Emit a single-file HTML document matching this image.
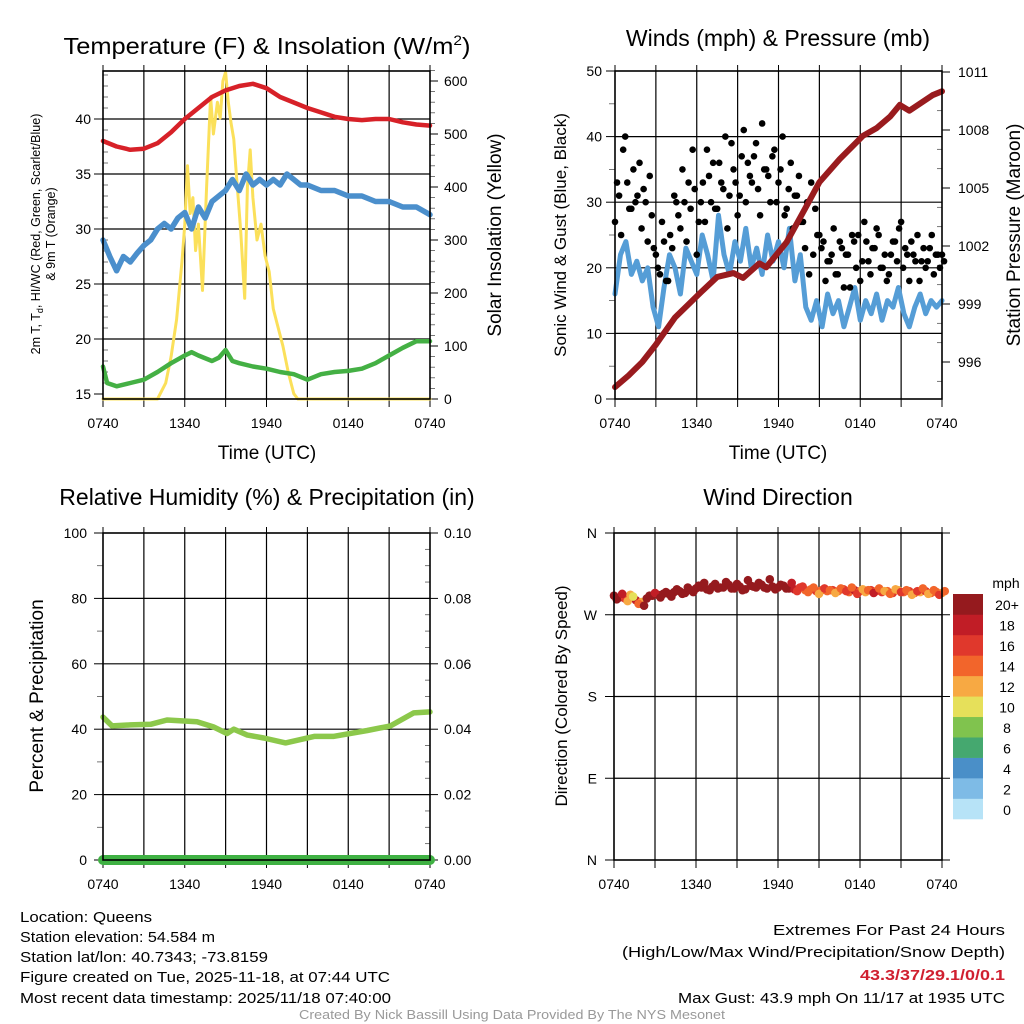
<!DOCTYPE html>
<html><head><meta charset="utf-8"><style>
html,body{margin:0;padding:0;background:#fff;}
svg{display:block;font-family:"Liberation Sans",sans-serif;}
</style></head><body>
<svg id="fig" width="1024" height="1024" viewBox="0 0 1024 1024" xmlns="http://www.w3.org/2000/svg">
<rect width="1024" height="1024" fill="#fff"/>
<g id="layer"></g>
<g fill="#000">
<text x="267" y="54" font-size="23" text-anchor="middle" textLength="407" lengthAdjust="spacingAndGlyphs">Temperature (F) &amp; Insolation (W/m<tspan font-size="14" dy="-9">2</tspan><tspan dy="9">)</tspan></text>
<text x="778" y="46" font-size="23" text-anchor="middle">Winds (mph) &amp; Pressure (mb)</text>
<text x="267" y="505" font-size="23" text-anchor="middle">Relative Humidity (%) &amp; Precipitation (in)</text>
<text x="778" y="505" font-size="23" text-anchor="middle">Wind Direction</text>
<text transform="translate(40,234) rotate(-90)" font-size="12.5" text-anchor="middle">2m T, T<tspan font-size="9" dy="3">d</tspan><tspan dy="-3">, HI/WC (Red, Green, Scarlet/Blue)</tspan></text>
<text transform="translate(55,234) rotate(-90)" font-size="12.5" text-anchor="middle">&amp; 9m T (Orange)</text>
<text transform="translate(501,235) rotate(-90)" font-size="19" text-anchor="middle">Solar Insolation (Yellow)</text>
<text transform="translate(566,235) rotate(-90)" font-size="17" text-anchor="middle">Sonic Wind &amp; Gust (Blue, Black)</text>
<text transform="translate(1020,235) rotate(-90)" font-size="19" text-anchor="middle">Station Pressure (Maroon)</text>
<text transform="translate(43,696) rotate(-90)" font-size="19" text-anchor="middle">Percent &amp; Precipitation</text>
<text transform="translate(567,696) rotate(-90)" font-size="17" text-anchor="middle">Direction (Colored By Speed)</text>
<text x="267" y="459" font-size="19" text-anchor="middle">Time (UTC)</text>
<text x="778" y="459" font-size="19" text-anchor="middle">Time (UTC)</text>
<text x="1006" y="588" font-size="14" text-anchor="middle">mph</text>
</g>
<g font-size="15" fill="#000">
<text x="20" y="922" textLength="132" lengthAdjust="spacingAndGlyphs">Location: Queens</text>
<text x="20" y="942" textLength="195" lengthAdjust="spacingAndGlyphs">Station elevation: 54.584 m</text>
<text x="20" y="962" textLength="248" lengthAdjust="spacingAndGlyphs">Station lat/lon: 40.7343; -73.8159</text>
<text x="20" y="982" textLength="370" lengthAdjust="spacingAndGlyphs">Figure created on Tue, 2025-11-18, at 07:44 UTC</text>
<text x="20" y="1003" textLength="371" lengthAdjust="spacingAndGlyphs">Most recent data timestamp: 2025/11/18 07:40:00</text>
<text x="1005" y="935" text-anchor="end" textLength="232" lengthAdjust="spacingAndGlyphs">Extremes For Past 24 Hours</text>
<text x="1005" y="957" text-anchor="end" textLength="383" lengthAdjust="spacingAndGlyphs">(High/Low/Max Wind/Precipitation/Snow Depth)</text>
<text x="1005" y="980" text-anchor="end" fill="#d02030" font-weight="bold" textLength="145" lengthAdjust="spacingAndGlyphs">43.3/37/29.1/0/0.1</text>
<text x="1005" y="1003" text-anchor="end" textLength="327" lengthAdjust="spacingAndGlyphs">Max Gust: 43.9 mph On 11/17 at 1935 UTC</text>
<text x="512" y="1019" text-anchor="middle" font-size="12.5" fill="#999" textLength="426" lengthAdjust="spacingAndGlyphs">Created By Nick Bassill Using Data Provided By The NYS Mesonet</text>
</g>
</svg>
<script>
// ===== data =====
const xTickLabels = ["0740","1340","1940","0140","0740"];
// Panel 1 (hours since 0740)
const tempT = [0,1,2,3,4,5,6,7,8,9,10,11,12,13,14,15,16,17,18,19,20,21,22,23,24];
const tempV = [38,37.5,37.2,37.3,37.8,38.8,40,41,42,42.6,43,43.2,42.8,42,41.5,41,40.6,40.2,40,39.9,40,40,39.7,39.5,39.4];
const wcT = [0,0.5,1,1.5,2,2.5,3,3.5,4,4.5,5,5.5,6,6.5,7,7.5,8,8.5,9,9.5,10,10.5,11,11.5,12,12.5,13,13.5,14,14.5,15,16,17,18,19,20,21,22,23,24];
const wcV = [29,27.5,26.2,27.5,27,27.8,28.5,29,30,30.5,30,31,31.5,30,32,31,32.5,33,33.5,34.5,33.5,35,34,34.5,34,34.5,34,35,34.5,34,34,33.5,33.5,33,33,32.5,32.5,32,32,31.3];
const dewT = [0,0.3,1,2,3,4,5,6,6.5,7,8,8.5,9,9.5,10,11,12,13,14,15,16,17,18,19,20,21,22,23,24];
const dewV = [17.5,16,15.7,16,16.3,17,17.8,18.5,18.8,18.5,18,18.3,19,18,17.8,17.5,17.3,17,16.8,16.3,16.8,17,17.1,17.3,17.8,18.5,19.2,19.8,19.8];
const solT = [0,4.0,4.6,5,5.4,5.8,6,6.2,6.4,6.6,6.8,7,7.3,7.6,7.9,8.1,8.4,8.6,8.8,9,9.2,9.4,9.6,9.8,10.1,10.4,10.6,10.8,11,11.3,11.6,11.9,12.2,12.5,12.8,13.2,13.6,14.0,14.3,24];
const solV = [0,0,30,80,150,260,330,440,350,380,280,330,205,400,570,500,560,530,600,617,560,520,490,420,320,190,400,470,380,300,330,270,240,170,140,100,50,10,0,0];
const tempTicks = [15,20,25,30,35,40];
const solTicks = [0,100,200,300,400,500,600];
// Panel 2
const presT = [0,1,2,3,3.4,4.4,6.3,7.5,8.7,9.4,10.6,11.1,12.6,14.0,15.0,16.5,18.2,19.2,20.2,20.9,21.6,23.3,24];
const presV = [994.7,995.3,996.0,996.9,997.3,998.3,999.6,1000.4,1000.6,1000.35,1001.1,1000.9,1002.2,1004.0,1005.3,1006.5,1007.7,1008.1,1008.7,1009.3,1009.0,1009.8,1010.0];
const windV = [16,22,24,19,21,18,20,14,11,17, 22,20,16,23,21,19,25,22,18,28, 22,19,24,21,26,20,23,19,25,21, 24,20,26,18,22,14,12,15,11,16, 13,15,11,14,17,12,15,13,16,12, 15,14,17,13,11,14,16,13,15,14,15];
const gustV = [27,31,38,33,29,30,36,32,24,28, 22,19,24,18,23,30,26,30,33,38, 22,30,27,34,36,29,33,40,31,35, 28,37,30,34,37,32,42,35,30,38, 33,40,29,36,31,34,27,30,33,29, 25,24,21,22,19,24,17,22,25,20, 18,27,21,23,26,20,22,19,24,21, 27,23,18,22,25,21,20,23,19,22,22];
const gustV2 = [33,25,40,29,35,31,26,30,34,23, 20,27,18,25,31,28,35,24,29,32, 27,33,38,30,29,36,32,26,39,33, 31,41,36,33,39,28,35,34,37,30, 35,28,32,26,31,27,23,19,22,25, 23,18,21,26,19,23,22,17,24,25, 21,24,19,23,25,20,18,22,24,26, 20,22,24,21,18,23,21,25,22,20,21];
const windTicks = [0,10,20,30,40,50];
const presTicks = [996,999,1002,1005,1008,1011];
// Panel 3
const rhT = [0,0.66,2,3.5,4.7,6.9,8.1,9.1,9.6,10.6,11.8,13.4,15.5,16.9,19.4,21.1,22.8,24];
const rhV = [43.7,41,41.3,41.5,42.8,42.3,40.7,38.7,40,38.2,37.3,35.8,37.8,37.8,39.6,41,45,45.3];
const precipT = [0,24];
const precipV = [0,0];
const rhTicks = [0,20,40,60,80,100];
const precipTicks = ["0.00","0.02","0.04","0.06","0.08","0.10"];
// Panel 4
const dirV = [291,289,288,292,286,284,288,291,292,293, 293,295,296,294,297,299,300,298,301,299, 300,303,299,301,298,302,300,303,299,301, 300,302,299,298,300,297,298,296,297,296, 297,296,298,295,297,296,295,297,296,295, 296,294,297,295,296,294,295,296,294,295,294];
const dirSpd = [20,21,17,13,19,12,20,22,21,20, 21,22,20,23,22,21,24,22,20,25, 22,21,23,22,24,21,22,21,23,22, 22,21,20,18,17,15,14,16,15,14, 17,14,16,15,18,14,13,16,15,17, 14,16,13,15,17,14,13,16,15,14,13];
const dirV2 = [287,293,285,290,282,280,291,294,289,295, 290,298,293,300,295,302,305,297,304,300, 306,299,304,297,308,301,305,300,309,298, 303,299,305,296,301,295,300,293,299,297, 294,299,296,300,293,298,297,294,299,296, 293,298,295,297,292,296,299,293,297,292,296];
const dirSpd2 = [22,18,12,11,15,20,21,18,22,20, 23,21,22,20,24,22,21,23,22,24, 21,22,20,23,25,21,22,24,20,22, 21,20,19,17,16,14,15,13,16,14, 13,15,17,14,16,12,15,18,14,13, 15,13,17,14,12,16,14,13,15,16,14];
const dirTicks = ["N","E","S","W","N"];
const cbLabels = ["0","2","4","6","8","10","12","14","16","18","20+"];
const cbColors = ["#b7e3f7","#7ebbe6","#4a8fc8","#45a86f","#80c34e","#e6e05a","#f7a943","#f2652b","#e0382c","#c11d26","#951a1e"];

// ===== drawing =====
const NS="http://www.w3.org/2000/svg";
const layer=document.getElementById('layer');
function mk(tag,attrs,parent){const e=document.createElementNS(NS,tag);for(const k in attrs)e.setAttribute(k,attrs[k]);(parent||layer).appendChild(e);return e;}
function lin(d0,d1,r0,r1){return v=>r0+(v-d0)*(r1-r0)/(d1-d0);}

function panel(name,x0,x1,yT,yB){
  const g=mk('g',{});
  
  
  const xs=lin(0,24,x0,x1);
  for(let h=3;h<24;h+=3){
    const l=mk('line',{x1:xs(h),x2:xs(h),y1:yT,y2:yB,stroke:'#000','stroke-width':1.2},g);
    
    
  }
  for(let h=0;h<=24;h+=3){
    const t=mk('line',{x1:xs(h),x2:xs(h),y1:yB,y2:yB+8,stroke:'#000','stroke-width':1},g);
    
    
    const t2=mk('line',{x1:xs(h),x2:xs(h),y1:yT-6,y2:yT,stroke:'#000','stroke-width':1},g);
    
    
  }
  xTickLabels.forEach((s,i)=>{
    const t=mk('text',{x:xs(i*6),y:yB+29,'font-size':14,'text-anchor':'middle'},g);
    t.textContent=s;
    
    
  });
  return {g,xs};
}
function hgrid(g,x0,x1,y){const l=mk('line',{x1:x0,x2:x1,y1:y,y2:y,stroke:'#000','stroke-width':1.2},g);}
function ytick(g,x,y,len,label,anchor,lx){
  const l=mk('line',{x1:x,x2:x+len,y1:y,y2:y,stroke:'#000','stroke-width':1},g);
  
  
  if(label!==null){const t=mk('text',{x:lx,y:y+5,'font-size':14,'text-anchor':anchor},g);t.textContent=label;}
}
function minor(g,x,ys,len){ys.forEach(y=>{const l=mk('line',{x1:x,x2:x+len,y1:y,y2:y,stroke:'#555','stroke-width':0.8},g);});}
function line(g,T,V,xs,ys,color,w,name){
  const d=T.map((t,i)=>(i?'L':'M')+xs(t).toFixed(1)+','+ys(V[i]).toFixed(1)).join('');
  const p=mk('path',{d:d,fill:'none',stroke:color,'stroke-width':w,'stroke-linejoin':'round','stroke-linecap':'round'},g);
  
  
}
function frame(g,x0,x1,yT,yB){const r=mk('rect',{x:x0,y:yT,width:x1-x0,height:yB-yT,fill:'none',stroke:'#000','stroke-width':1.6},g);}

// Panel 1
(function(){
  const x0=103,x1=430,yT=71,yB=399;
  const P=panel('temperature-panel',x0,x1,yT,yB),g=P.g,xs=P.xs;
  const ys=lin(15,40,394,119), ysR=lin(0,600,399,81);
  tempTicks.forEach(v=>{if(v>15)hgrid(g,x0,x1,ys(v));ytick(g,x0-9,ys(v),9,String(v),'end',x0-12);});
  const mins=[];for(let v=16;v<=44;v++)if(v%5)mins.push(ys(v));minor(g,x0,mins,5);
  solTicks.forEach(v=>ytick(g,x1,ysR(v),8,String(v),'start',x1+14));
  const mr=[];for(let v=20;v<=620;v+=20)if(v%100)mr.push(ysR(v));minor(g,x1,mr,5);
  line(g,solT,solV,xs,ysR,'#fbe05a',3,'insolation-line');
  line(g,dewT,dewV,xs,ys,'#44b044',4.5,'dewpoint-line');
  line(g,wcT,wcV,xs,ys,'#4b8fcc',5.5,'windchill-line');
  line(g,tempT,tempV,xs,ys,'#d72128',4.5,'temperature-line');
  frame(g,x0,x1,yT,yB);
})();
// Panel 2
(function(){
  const x0=615,x1=942,yT=71,yB=399;
  const P=panel('wind-panel',x0,x1,yT,yB),g=P.g,xs=P.xs;
  const ys=lin(0,50,399,71), ysR=lin(996,1011,362,72);
  windTicks.forEach(v=>{if(v>0&&v<50)hgrid(g,x0,x1,ys(v));ytick(g,x0-9,ys(v),9,String(v),'end',x0-13);});
  const mins=[];for(let v=5;v<50;v+=10)mins.push(ys(v));minor(g,x0,mins,-6);
  presTicks.forEach(v=>ytick(g,x1,ysR(v),8,String(v),'start',x1+16));
  const mr=[];for(let v=995;v<=1010;v++)if((v-996)%3)mr.push(ysR(v));minor(g,x1,mr,-5);
  const wT=windV.map((v,i)=>i*0.4);
  line(g,wT,windV,xs,ys,'#559dd6',5,'sonic-wind-line');
  gustV.forEach((v,i)=>{const c=mk('circle',{cx:xs(i*0.3),cy:ys(v),r:3.3,fill:'#000'},g);});
  gustV2.forEach((v,i)=>{const c=mk('circle',{cx:xs(i*0.3+0.15),cy:ys(v),r:3.3,fill:'#000'},g);});
  line(g,presT,presV,xs,ysR,'#991b1e',6,'pressure-line');
  frame(g,x0,x1,yT,yB);
})();
// Panel 3
(function(){
  const x0=103,x1=430,yT=533,yB=860;
  const P=panel('humidity-panel',x0,x1,yT,yB),g=P.g,xs=P.xs;
  const ys=lin(0,100,860,533);
  rhTicks.forEach((v,i)=>{if(v>0&&v<100)hgrid(g,x0,x1,ys(v));ytick(g,x0-9,ys(v),9,String(v),'end',x0-16);ytick(g,x1,ys(v),8,precipTicks[i],'start',x1+14);});
  const mins=[];for(let v=10;v<100;v+=20)mins.push(ys(v));minor(g,x0,mins,-6);
  const mr=[];for(let v=5;v<100;v+=5)if(v%20)mr.push(ys(v));minor(g,x1,mr,-5);
  line(g,rhT,rhV,xs,ys,'#8cc84b',5.5,'rh-line');
  line(g,precipT,precipV.map(v=>v*1000),xs,ys,'#3fb143',10,'precip-line');
  frame(g,x0,x1,yT,yB);
})();
// Panel 4
(function(){
  const x0=614,x1=942,yT=533,yB=860;
  const P=panel('direction-panel',x0,x1,yT,yB),g=P.g,xs=P.xs;
  const ys=lin(0,360,860,533);
  dirTicks.forEach((s,i)=>{if(i>0&&i<4)hgrid(g,x0,x1,ys(i*90));ytick(g,x0-9,ys(i*90),9,s,'end',x0-17);ytick(g,x1,ys(i*90),8,null);});
  function dots(D,S,off){
    D.forEach((v,i)=>{
      const k=Math.min(10,Math.floor(S[i]/2));
      const c=mk('circle',{cx:xs(i*0.4+off),cy:ys(v),r:4.3,fill:cbColors[k]},g);
      
      
    });
  }
  dots(dirV,dirSpd,0);
  dots(dirV2,dirSpd2,0.2);
  frame(g,x0,x1,yT,yB);
  const bh=(819-594)/11;
  cbColors.forEach((c,i)=>{
    const y=819-(i+1)*bh;
    const r=mk('rect',{x:953,y:y,width:30,height:bh+0.3,fill:c},g);
    
    
    const t=mk('text',{x:1007,y:y+bh/2+6,'font-size':14,'text-anchor':'middle'},g);
    t.textContent=cbLabels[i];
    
    
  });
})();
</script>
</body></html>
